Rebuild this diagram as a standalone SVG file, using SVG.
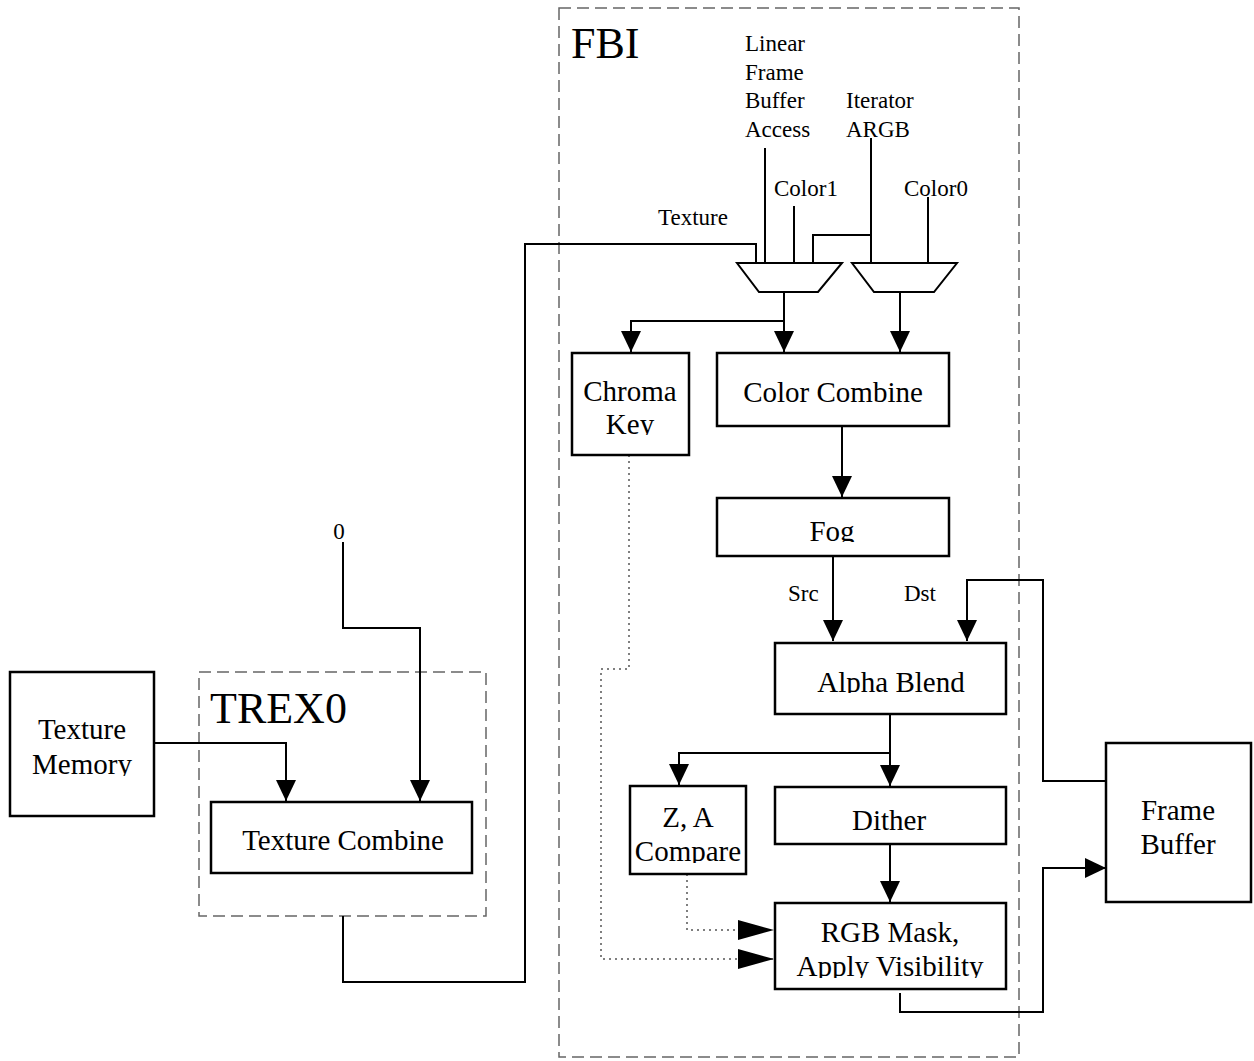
<svg xmlns="http://www.w3.org/2000/svg" width="1254" height="1061" viewBox="0 0 1254 1061">
<style>
text{font-family:"Liberation Serif","Times New Roman",serif;fill:#000}
.lbl{font-size:29px;text-anchor:middle}
.sm{font-size:23px}
.big{font-size:44px}
.box{fill:#fff;stroke:#000;stroke-width:2.5}
.grp{fill:none;stroke:#666;stroke-width:1.5;stroke-dasharray:12 6}
.w{fill:none;stroke:#000;stroke-width:2}
.dot{fill:none;stroke:#555;stroke-width:1.5;stroke-dasharray:2 4}
</style>
<defs>
<marker id="a" viewBox="0 0 21 20" markerWidth="21" markerHeight="20" refX="21" refY="10" orient="auto" markerUnits="userSpaceOnUse"><path d="M0,0 L21,10 L0,20 z" fill="#000"/></marker>
<marker id="al" viewBox="0 0 36 20" markerWidth="36" markerHeight="20" refX="36" refY="10" orient="auto" markerUnits="userSpaceOnUse"><path d="M0,0 L36,10 L0,20 z" fill="#000"/></marker>
<clipPath id="cKey"><rect x="572" y="353" width="117" height="82"/></clipPath>
<clipPath id="cFog"><rect x="717" y="498" width="232" height="44"/></clipPath>
<clipPath id="cAlpha"><rect x="775" y="643" width="231" height="50"/></clipPath>
<clipPath id="cZA"><rect x="630" y="786" width="116" height="77"/></clipPath>
<clipPath id="cRGB"><rect x="775" y="903" width="231" height="75"/></clipPath>
<clipPath id="cMem"><rect x="10" y="672" width="144" height="104"/></clipPath>
</defs>

<g id="fbi-group">
<rect class="grp" x="559" y="8" width="460" height="1049"/>
<text class="big" x="571" y="58">FBI</text>
</g>
<g id="trex0-group">
<rect class="grp" x="199" y="672" width="287" height="244"/>
<text class="big" x="210" y="723">TREX0</text>
</g>

<g id="labels">
<text class="sm" x="745" y="51">Linear</text>
<text class="sm" x="745" y="80">Frame</text>
<text class="sm" x="745" y="108">Buffer</text>
<text class="sm" x="745" y="137">Access</text>
<text class="sm" x="846" y="108">Iterator</text>
<text class="sm" x="846" y="137">ARGB</text>
<text class="sm" x="774" y="196">Color1</text>
<text class="sm" x="904" y="196">Color0</text>
<text class="sm" x="658" y="225">Texture</text>
<text class="sm" x="788" y="601">Src</text>
<text class="sm" x="904" y="601">Dst</text>
<text class="sm" x="339" y="539" text-anchor="middle">0</text>
</g>

<g id="connectors">
<path class="w" d="M765,148 V263"/>
<path class="w" d="M794,206 V263"/>
<path class="w" d="M871,138 V263"/>
<path class="w" d="M871,235 H813 V263"/>
<path class="w" d="M928,197 V263"/>
<path class="w" d="M343,916 V982 H525 V244 H756 V263"/>
<path class="w" d="M784,292 V352" marker-end="url(#a)"/>
<path class="w" d="M784,321 H631 V352" marker-end="url(#a)"/>
<path class="w" d="M900,292 V352" marker-end="url(#a)"/>
<path class="w" d="M842,426 V497" marker-end="url(#a)"/>
<path class="w" d="M833,551 V641" marker-end="url(#a)"/>
<path class="w" d="M1112,781 H1043 V580 H967 V641" marker-end="url(#a)"/>
<path class="w" d="M890,714 V786" marker-end="url(#a)"/>
<path class="w" d="M890,753 H679 V785" marker-end="url(#a)"/>
<path class="w" d="M890,839 V902" marker-end="url(#a)"/>
<path class="w" d="M900,993 V1012 H1043 V868 H1106" marker-end="url(#a)"/>
<path class="w" d="M151,743 H286 V801" marker-end="url(#a)"/>
<path class="w" d="M343,542 V628 H420 V801" marker-end="url(#a)"/>
<path class="dot" d="M687,874 V930 H774" marker-end="url(#al)"/>
<path class="dot" d="M629,455 V669 H601 V959 H774" marker-end="url(#al)"/>
</g>

<g id="mux1"><path class="w" d="M737,263 H842 L818,292 H759 Z" fill="#fff"/></g>
<g id="mux2"><path class="w" d="M852,263 H957 L934,292 H874 Z" fill="#fff"/></g>

<g id="chroma-key">
<rect class="box" x="572" y="353" width="117" height="102"/>
<g clip-path="url(#cKey)"><text class="lbl" x="630" y="401">Chroma</text><text class="lbl" x="630" y="434">Key</text></g>
</g>
<g id="color-combine">
<rect class="box" x="717" y="353" width="232" height="73"/>
<text class="lbl" x="833" y="402">Color Combine</text>
</g>
<g id="fog">
<rect class="box" x="717" y="498" width="232" height="58"/>
<g clip-path="url(#cFog)"><text class="lbl" x="832" y="541">Fog</text></g>
</g>
<g id="alpha-blend">
<rect class="box" x="775" y="643" width="231" height="71"/>
<g clip-path="url(#cAlpha)"><text class="lbl" x="891" y="692">Alpha Blend</text></g>
</g>
<g id="za-compare">
<rect class="box" x="630" y="786" width="116" height="88"/>
<g clip-path="url(#cZA)"><text class="lbl" x="688" y="827">Z, A</text><text class="lbl" x="688" y="861">Compare</text></g>
</g>
<g id="dither">
<rect class="box" x="775" y="787" width="231" height="57"/>
<text class="lbl" x="889" y="830">Dither</text>
</g>
<g id="rgb-mask">
<rect class="box" x="775" y="903" width="231" height="86"/>
<g clip-path="url(#cRGB)"><text class="lbl" x="890" y="942">RGB Mask,</text><text class="lbl" x="890" y="976">Apply Visibility</text></g>
</g>
<g id="frame-buffer">
<rect class="box" x="1106" y="743" width="145" height="159"/>
<text class="lbl" x="1178" y="820">Frame</text>
<text class="lbl" x="1178" y="854">Buffer</text>
</g>
<g id="texture-memory">
<rect class="box" x="10" y="672" width="144" height="144"/>
<g clip-path="url(#cMem)"><text class="lbl" x="82" y="739">Texture</text><text class="lbl" x="82" y="774">Memory</text></g>
</g>
<g id="texture-combine">
<rect class="box" x="211" y="802" width="261" height="71"/>
<text class="lbl" x="343" y="850">Texture Combine</text>
</g>
</svg>
